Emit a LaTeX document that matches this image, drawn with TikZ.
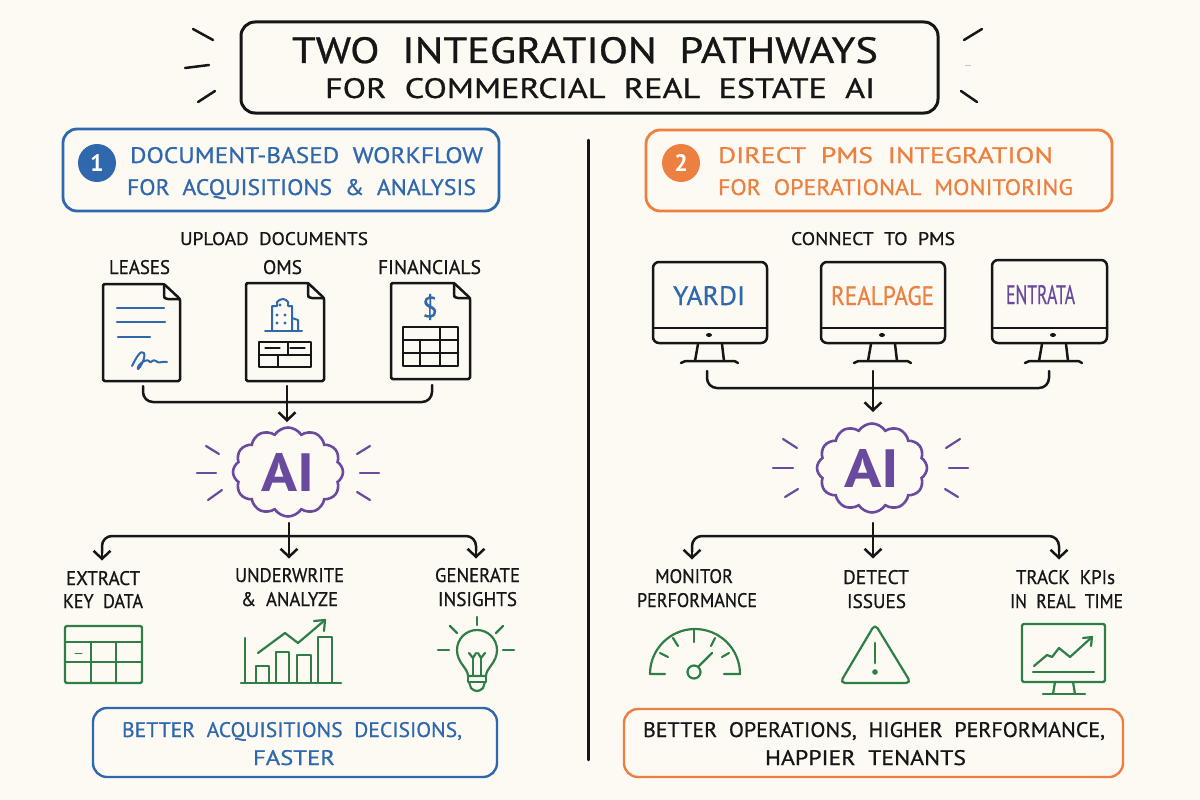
\documentclass[tikz,border=0pt]{standalone}
\usepackage{fontspec}
\usepackage{graphicx}
\usetikzlibrary{arrows.meta,shapes.symbols,calc}
\newfontfamily\hw[WordSpace=2,FakeBold=0.7]{PT Sans}
\newfontfamily\hwb[WordSpace=2]{PT Sans Bold}
\definecolor{bgc}{HTML}{FDFAF4}
\definecolor{ink}{HTML}{161616}
\definecolor{cblue}{HTML}{2F68AC}
\definecolor{corange}{HTML}{EC8040}
\definecolor{cpurple}{HTML}{6A4A9E}
\definecolor{cgreen}{HTML}{2F7D47}
\tikzset{
 txt/.style={inner sep=0,outer sep=0,anchor=base west},
 ln/.style={line width=2.5pt,draw=ink,line cap=round,line join=round},
 wire/.style={ln,rounded corners=10pt},
 arr/.style={ln,-{Straight Barb[length=8pt,width=17pt,line width=2.5pt]}},
 bl/.style={line width=2.2pt,draw=cblue,line cap=round,line join=round},
 gr/.style={line width=2.2pt,draw=cgreen,line cap=round,line join=round},
 ray/.style={line width=2.2pt,draw=cpurple,line cap=round},
 tray/.style={ln},
 hdr/.style={rectangle,rounded corners=14pt,line width=2.8pt,fill=bgc,inner sep=0},
 aicloud/.style={cloud,cloud puffs=12,cloud puff arc=115,cloud ignores aspect,draw=cpurple,line width=2.6pt,minimum width=110pt,minimum height=89pt,inner sep=0,text=cpurple},
 holder/.style={rectangle,inner sep=0,outer sep=0},
 badge/.style={circle,inner sep=0,minimum size=38pt,text=white},
}
\newcommand{\T}[7]{\node[txt,text=#1] (#2) at (#3,#4) {\resizebox{#5pt}{#6pt}{\hw #7}};}
\newcommand{\docshape}[4]{% left top right bottom
 \draw[ln,rounded corners=1.5pt] (#1,#2) -- (#3-16,#2) -- (#3,#2+15) -- (#3,#4) -- (#1,#4) -- cycle;
 \draw[ln] (#3-16,#2) -- (#3-16,#2+11) .. controls (#3-16,#2+14) .. (#3-12,#2+15) -- (#3,#2+15);
}
\newcommand{\mon}[4]{% left right top center
 \draw[ln,rounded corners=6pt] (#1,#3) rectangle (#2,343);
 \draw[ln] (#1,328) -- (#2,328);
 \fill[ink] (#4,335) ellipse (3pt and 2pt);
 \draw[ln] (#4-11,344) -- (#4-14,361);
 \draw[ln] (#4+13,344) -- (#4+15,361);
 \draw[ln] (#4-28,363) .. controls (#4-24,361) .. (#4-20,361) -- (#4+22,361) .. controls (#4+26,361) .. (#4+29,363);
}
\begin{document}
\begin{tikzpicture}[x=1pt,y=-1pt]
\useasboundingbox (0,0) rectangle (1200,800);
\fill[bgc] (0,0) rectangle (1200,800);

% title
\node[hdr,draw=ink,minimum width=697pt,minimum height=91pt,line width=3pt] (titlebox) at (589.5,67.5) {};
\T{ink}{t1}{292}{63}{586}{26}{TWO INTEGRATION PATHWAYS}
\T{ink}{t2}{325}{98}{550}{20}{FOR COMMERCIAL REAL ESTATE AI}
\draw[tray] (193,29) -- (213,40);
\draw[tray] (185,68) -- (209,65);
\draw[tray] (198,102) -- (215,91);
\draw[tray] (982,29) -- (964,40);
\draw[line width=1pt,draw=ink!25] (965,66) -- (971,66);
\draw[tray] (961,91) -- (977,102);

% divider
\coordinate (divtop) at (588.5,140);
\coordinate (divbot) at (588.5,760);
\draw[ln] (divtop) -- (divbot);

% headers
\node[hdr,draw=cblue,minimum width=436pt,minimum height=82pt] (hl) at (281,170) {};
\node[hdr,draw=corange,minimum width=466pt,minimum height=81pt] (hr) at (879,170.5) {};
\node[badge,fill=cblue] (b1) at (97,163) {\resizebox{!}{17pt}{\hwb 1}};
\node[badge,fill=corange] (b2) at (681,163) {\resizebox{!}{17pt}{\hwb 2}};
\T{cblue}{h1a}{130}{163}{353}{16}{DOCUMENT-BASED WORKFLOW}
\T{cblue}{h1b}{127}{195}{349}{16}{FOR ACQUISITIONS \& ANALYSIS}
\T{corange}{h2a}{718}{163}{335}{16}{DIRECT PMS INTEGRATION}
\T{corange}{h2b}{718}{195}{355}{16}{FOR OPERATIONAL MONITORING}

% left upload
\T{ink}{up}{180}{245}{188}{13}{UPLOAD DOCUMENTS}
\T{ink}{l1}{109}{274}{61}{14}{LEASES}
\T{ink}{l2}{263}{274}{39}{14}{OMS}
\T{ink}{l3}{378}{274}{103}{14}{FINANCIALS}
\node[holder,minimum width=77pt,minimum height=97pt] (doc1) at (141.5,332.5) {};
\node[holder,minimum width=78pt,minimum height=98pt] (doc2) at (285,332) {};
\node[holder,minimum width=79pt,minimum height=96pt] (doc3) at (430.5,331) {};
\docshape{103}{284}{180}{381}
\docshape{246}{283}{324}{381}
\docshape{391}{283}{470}{379}
% doc1 content
\draw[bl] (117,308) -- (164,308);
\draw[bl] (117,322) -- (165,322);
\draw[bl] (118,337) -- (150,337);
\draw[bl,line width=2pt] (132,366) .. controls (136,358) and (141,349) .. (144,353) .. controls (146,358) and (140,368) .. (138,369) .. controls (136,366) and (146,358) .. (149,361) .. controls (150,365) and (153,358) .. (156,361) .. controls (158,364) and (162,361) .. (167,362);
% doc2 content
\draw[bl,line width=2pt] (265,331) -- (302,331);
\draw[bl,line width=2pt] (272,331) -- (272,306) -- (277,306) -- (277,302) .. controls (281,298) and (285,298) .. (288,302) -- (288,306) -- (292,306) -- (292,331);
\draw[bl,line width=2pt] (292,318) -- (298,320) -- (298,331);
\foreach \xx/\yy in {280/305,277/315,285/315,277/323,285/323}{\fill[cblue] (\xx,\yy) circle (1.6pt);}
\draw[ln] (259,342) rectangle (311,367);
\draw[ln] (259,355) -- (311,355);
\draw[ln] (278,355) -- (278,367);
\draw[ln] (288,343) -- (288,354);
\draw[ln,line width=1.2pt] (265,348) -- (280,348);
\draw[ln,line width=1.2pt] (290,348) -- (305,348);
% doc3 content
\node[inner sep=0,text=cblue] (dollar) at (430,307) {\resizebox{!}{23pt}{\hw \$}};
\draw[ln] (403,327) rectangle (458,366);
\draw[ln] (403,340) -- (458,340);
\draw[ln] (403,353) -- (458,353);
\draw[ln] (420,340) -- (420,366);
\draw[ln] (440,327) -- (440,366);

% clouds
\node[aicloud] (ai1) at (288,472) {\resizebox{53pt}{38pt}{\hwb AI}};
\node[aicloud] (ai2) at (872,468) {\resizebox{55pt}{38pt}{\hwb AI}};

% left connectors in
\coordinate (busl) at (287,402);
\draw[wire] ([shift={(1.5,5)}]doc1.south) |- (busl) -| ([shift={(1.5,6)}]doc3.south);
\draw[arr] ([shift={(2,5)}]doc2.south) -- (287,422);
\foreach \a/\b/\c/\d in {206/446/219/454,197/473/216/473,208/500/222/490,370/446/357/454,360/473/379/473,357/492/370/500}{\draw[ray] (\a,\b) -- (\c,\d);}

% left outputs
\coordinate (busdl) at (289,536);
\node[holder] (o1) at (102,561) {};
\node[holder] (o2) at (289,559) {};
\node[holder] (o3) at (476,559) {};
\draw[wire] (busdl) -| (102,553);
\draw[wire] (busdl) -| (476,551);
\draw[arr] (102,548) -- (o1);
\draw[arr] (476,546) -- (o3);
\draw[arr] (289,523) -- (o2);
\T{ink}{e1a}{66}{585}{74}{14}{EXTRACT}
\T{ink}{e1b}{63}{608}{80}{14}{KEY DATA}
\T{ink}{e2a}{235}{582}{109}{14}{UNDERWRITE}
\T{ink}{e2b}{241}{606}{97}{14}{\& ANALYZE}
\T{ink}{e3a}{435}{582}{85}{14}{GENERATE}
\T{ink}{e3b}{438}{606}{79}{14}{INSIGHTS}
% green table
\draw[gr,rounded corners=1.5pt] (65,626) rectangle (142,683);
\draw[gr] (65,642) -- (142,642);
\draw[gr] (65,662) -- (142,662);
\draw[gr] (91,642) -- (91,683);
\draw[gr] (116,642) -- (116,683);
\draw[gr,line width=1pt] (75,653) -- (82,653);
% bar chart
\draw[gr] (245,638) -- (245,683);
\draw[gr] (241,683) -- (341,683);
\draw[gr] (256,683) -- (256,666) -- (269,666) -- (269,683);
\draw[gr] (276,683) -- (276,652) -- (289,652) -- (289,683);
\draw[gr] (297,683) -- (297,655) -- (311,655) -- (311,683);
\draw[gr] (318,683) -- (318,637) -- (332,637) -- (332,683);
\draw[gr] (258,653) -- (285,633) -- (298,643) -- (325,620);
\draw[gr] (314,621) -- (325,620) -- (324,631);
% bulb
\foreach \a/\b/\c/\d in {477/617/477/625,450/626/457/633,503/626/496/633,438/650/449/650,503/650/514/650}{\draw[gr] (\a,\b) -- (\c,\d);}
\draw[gr] (468,676) .. controls (468,668) and (457,663) .. (457,650) arc[start angle=180,end angle=0,radius=20pt] .. controls (497,663) and (486,668) .. (486,676) -- cycle;
\draw[gr] (469,653) -- (473,658) -- (476,653);
\draw[gr] (478,653) -- (481,658) -- (485,653);
\draw[gr] (473,658) -- (473,675);
\draw[gr] (481,658) -- (481,675);
\draw[gr] (468,676) -- (468,682) -- (486,682) -- (486,676);
\draw[gr] (469,682) -- (471,688) .. controls (475,692) and (479,692) .. (483,688) -- (485,682);

\node[hdr,draw=cblue,minimum width=404pt,minimum height=69pt,line width=2.4pt] (rl) at (295,742.5) {};
\T{cblue}{r1a}{122}{737}{340}{15}{BETTER ACQUISITIONS DECISIONS,}
\T{cblue}{r1b}{253}{765}{82}{15}{FASTER}

% right
\T{ink}{cp}{791}{245}{164}{13}{CONNECT TO PMS}
\node[holder,minimum width=114pt,minimum height=100pt] (m1) at (710,312) {};
\node[holder,minimum width=124pt,minimum height=100pt] (m2) at (883,312) {};
\node[holder,minimum width=122pt,minimum height=102pt] (m3) at (1053,311) {};
\mon{653}{767}{262}{709}
\mon{821}{945}{262}{882}
\mon{992}{1107}{260}{1053}
\T{cblue}{y1}{673}{305}{72}{19}{YARDI}
\T{corange}{y2}{831}{305}{103}{19}{REALPAGE}
\T{cpurple}{y3}{1006}{304}{69}{19}{ENTRATA}

\coordinate (busr) at (873,388);
\draw[wire] ([shift={(-3,9)}]m1.south) |- (busr) -| ([shift={(-4,9)}]m3.south);
\draw[arr] ([shift={(-10,9)}]m2.south) -- (873,412);
\foreach \a/\b/\c/\d in {783/439/797/448,773/468/793/468,785/497/798/489,960/439/946/448,949/468/968/468,945/489/958/497}{\draw[ray] (\a,\b) -- (\c,\d);}

\coordinate (busdr) at (873,536);
\node[holder] (p1) at (692,560) {};
\node[holder] (p2) at (873,559) {};
\node[holder] (p3) at (1059,560) {};
\draw[wire] (busdr) -| (692,552);
\draw[wire] (busdr) -| (1059,552);
\draw[arr] (692,547) -- (p1);
\draw[arr] (1059,547) -- (p3);
\draw[arr] (873,523) -- (p2);
\T{ink}{f1a}{655}{583}{78}{14}{MONITOR}
\T{ink}{f1b}{637}{607}{120}{14}{PERFORMANCE}
\T{ink}{f2a}{843}{584}{66}{14}{DETECT}
\T{ink}{f2b}{847}{608}{59}{14}{ISSUES}
\T{ink}{f3a}{1016}{584}{99}{14}{TRACK KPIs}
\T{ink}{f3b}{1010}{608}{113}{14}{IN REAL TIME}
% gauge
\draw[gr] (665,674) -- (650,674) arc[start angle=180,end angle=0,radius=45pt] -- (724,674);
\foreach \a/\b/\c/\d in {660/653/668/657,673/638/678/646,694/630/694/642,715/638/711/646,729/653/722/657}{\draw[gr] (\a,\b) -- (\c,\d);}
\draw[gr] (694,672) circle (6.5pt);
\draw[gr] (698,667) -- (712,653);
% warning
\draw[gr,rounded corners=5pt] (875,624) -- (911,683) -- (840,683) -- cycle;
\draw[gr,line width=2.8pt] (875,643) -- (875,663);
\fill[cgreen] (875,672) circle (2.8pt);
% screen
\draw[gr,rounded corners=1.5pt] (1022,624) rectangle (1105,682);
\draw[gr] (1033,672) -- (1094,672);
\draw[gr] (1034,666) -- (1047,655) -- (1052,657) -- (1059,648) -- (1070,657) -- (1092,637);
\draw[gr] (1083,638) -- (1092,637) -- (1091,646);
\draw[gr] (1055,682) -- (1053,694);
\draw[gr] (1073,682) -- (1075,694);
\draw[gr] (1043,694) -- (1085,694);

\node[hdr,draw=corange,minimum width=499pt,minimum height=68pt,line width=2.4pt] (rr) at (873.5,743) {};
\T{ink}{r2a}{643}{737}{462}{15}{BETTER OPERATIONS, HIGHER PERFORMANCE,}
\T{ink}{r2b}{765}{765}{201}{15}{HAPPIER TENANTS}
\end{tikzpicture}
\end{document}
